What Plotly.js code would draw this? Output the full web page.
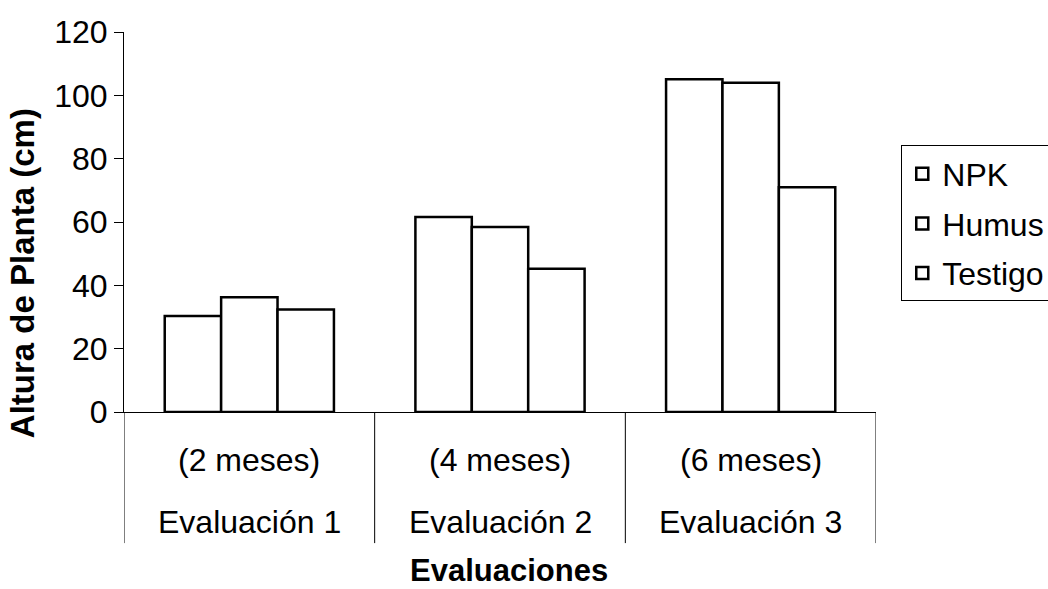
<!DOCTYPE html>
<html>
<head>
<meta charset="utf-8">
<script src="https://cdn.plot.ly/plotly-3.0.1.min.js"></script>
<style>html,body{margin:0;padding:0;background:#fff;}#chart{width:1048px;height:589px;}</style>
</head>
<body>
<div id="chart"></div>
<script>
// Data
var categories = ['Evaluación 1', 'Evaluación 2', 'Evaluación 3'];
var periods = ['(2 meses)', '(4 meses)', '(6 meses)'];
var seriesNames = ['NPK', 'Humus', 'Testigo'];
var npk = [30.3, 61.6, 105.1];
var humus = [36.2, 58.4, 104.0];
var testigo = [32.4, 45.2, 71.0];
var yTicks = [0, 20, 40, 60, 80, 100, 120];
var xTitle = 'Evaluaciones';
var yTitle = 'Altura de Planta (cm)';

var FONT = 'Arial, "Liberation Sans", sans-serif';
var values = [npk, humus, testigo];

var traces = seriesNames.map(function (name, i) {
  return {
    type: 'bar',
    name: name,
    x: categories,
    y: values[i],
    legendgroup: 'g' + i,
    marker: { color: '#ffffff', line: { color: '#000000', width: 2.5 } },
    hoverinfo: 'x+y+name'
  };
});

var annotations = [];
categories.forEach(function (c, i) {
  annotations.push({
    x: i, xref: 'x', y: -0.126, yref: 'paper',
    text: periods[i], showarrow: false, xanchor: 'center', yanchor: 'middle',
    font: { family: FONT, size: 32, color: '#000' }
  });
  annotations.push({
    x: i, xref: 'x', y: -0.2885, yref: 'paper',
    text: c, showarrow: false, xanchor: 'center', yanchor: 'middle',
    font: { family: FONT, size: 32, color: '#000' }
  });
});
annotations.push({
  x: 0.512, xref: 'paper', y: -0.418, yref: 'paper',
  text: '<b>' + xTitle + '</b>', showarrow: false, xanchor: 'center', yanchor: 'middle',
  font: { family: FONT, size: 31, color: '#000' }
});
annotations.push({
  x: -0.134, xref: 'paper', y: 0.366, yref: 'paper',
  text: '<b>' + yTitle + '</b>', showarrow: false, textangle: -90,
  xanchor: 'center', yanchor: 'middle',
  font: { family: FONT, size: 33, color: '#000' }
});

var shapes = [];
for (var k = 0; k <= categories.length; k++) {
  shapes.push({
    type: 'line', xref: 'x', yref: 'paper',
    x0: k - 0.5, x1: k - 0.5, y0: 0, y1: -0.345,
    line: { color: '#000', width: 1 }
  });
}

var layout = {
  width: 1048, height: 589,
  margin: { l: 124, r: 172, t: 32, b: 177, pad: 0, autoexpand: false },
  paper_bgcolor: '#ffffff', plot_bgcolor: '#ffffff',
  barmode: 'group', bargap: 0.325, bargroupgap: 0,
  showlegend: true,
  legend: {
    xref: 'container', yref: 'container',
    x: 0.86, xanchor: 'left', y: 0.753, yanchor: 'top',
    bgcolor: '#ffffff', bordercolor: '#000', borderwidth: 1,
    font: { family: FONT, size: 32, color: '#000' },
    tracegroupgap: 5, traceorder: 'grouped'
  },
  xaxis: {
    type: 'category', range: [-0.5, 2.5],
    showticklabels: false, ticks: '',
    showline: true, linecolor: '#000', linewidth: 1,
    showgrid: false, zeroline: false, fixedrange: true
  },
  yaxis: {
    range: [0, 120], tickvals: yTicks, ticktext: yTicks.map(String),
    ticks: 'outside', ticklen: 9, tickcolor: '#000', tickwidth: 1,
    showline: true, linecolor: '#000', linewidth: 1,
    showgrid: false, zeroline: false,
    tickfont: { family: FONT, size: 32, color: '#000' },
    fixedrange: true
  },
  annotations: annotations,
  shapes: shapes
};

Plotly.newPlot('chart', traces, layout, { displayModeBar: false, staticPlot: true });
</script>
</body>
</html>
